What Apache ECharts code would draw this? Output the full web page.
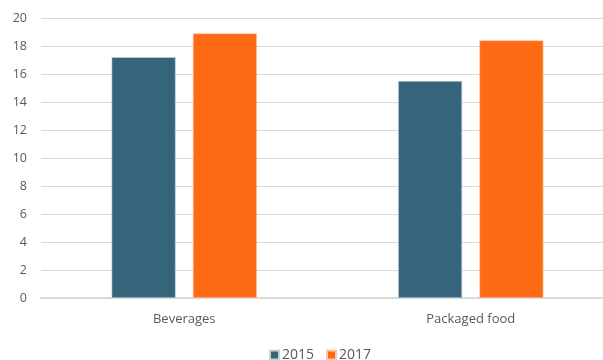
<!DOCTYPE html>
<html>
<head>
<meta charset="utf-8">
<script src="https://cdn.jsdelivr.net/npm/echarts@6/dist/echarts.min.js"></script>
<style>
html,body{margin:0;padding:0;background:#fff;}
#c{width:603px;height:360px;}
</style>
</head>
<body>
<div id="c"></div>
<script>
const categories = ["Beverages", "Packaged food"];
const seriesNames = ["2015", "2017"];
const values2015 = [17.2, 15.5];
const values2017 = [18.9, 18.4];
const yMin = 0, yMax = 20, yStep = 2;

const chart = echarts.init(document.getElementById('c'), null, {renderer: 'canvas'});
const font = "'Open Sans', 'Noto Sans', sans-serif";
chart.setOption({
  animation: false,
  backgroundColor: '#ffffff',
  grid: {left: 41, top: 18, width: 573, height: 280, containLabel: false, outerBoundsMode: 'none'},
  legend: {
    data: seriesNames,
    left: 264,
    top: 343,
    itemWidth: 9,
    itemHeight: 9,
    itemGap: 12,
    icon: 'rect',
    textStyle: {color: '#595959', fontSize: 14, fontFamily: font, padding: [0, 0, 0, -2]}
  },
  xAxis: {
    type: 'category',
    data: categories,
    axisLine: {show: true, lineStyle: {color: '#D9D9D9', width: 2}},
    axisTick: {show: false},
    axisLabel: {color: '#595959', fontSize: 13, fontFamily: font, margin: 15}
  },
  yAxis: {
    type: 'value',
    min: yMin, max: yMax, interval: yStep,
    axisLine: {show: false},
    axisTick: {show: false},
    splitLine: {lineStyle: {color: '#D9D9D9', width: 1}},
    axisLabel: {color: '#595959', fontSize: 12.5, fontFamily: font, margin: 14}
  },
  series: [
    {name: seriesNames[0], type: 'bar', data: values2015, barWidth: 64, barGap: '27%',
     itemStyle: {color: '#36647B', borderColor: '#c9d3da', borderWidth: 0.6}},
    {name: seriesNames[1], type: 'bar', data: values2017, barWidth: 64, barGap: '27%',
     itemStyle: {color: '#FF6A14', borderColor: '#ffc9a8', borderWidth: 0.6}}
  ]
});
</script>
</body>
</html>
